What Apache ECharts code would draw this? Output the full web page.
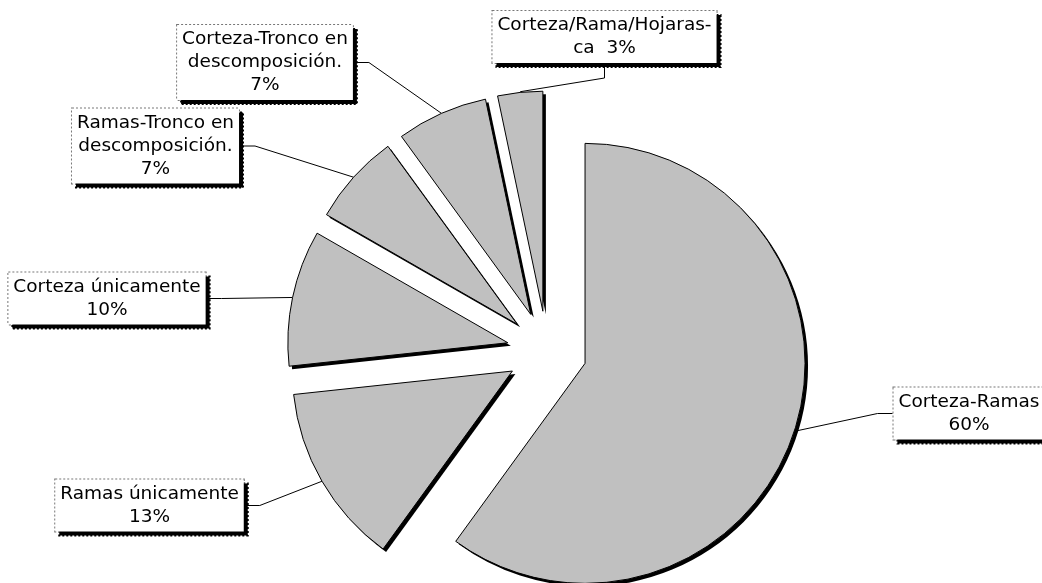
<!DOCTYPE html>
<html>
<head>
<meta charset="utf-8">
<script src="https://cdn.jsdelivr.net/npm/echarts@6/dist/echarts.min.js"></script>
<style>
html,body{margin:0;padding:0;background:#fff;}
#chart{width:1042px;height:583px;}
</style>
</head>
<body>
<div id="chart"></div>
<script>
// Categories (clockwise from 12 o'clock)
const categories = [
  'Corteza-Ramas',
  'Ramas únicamente',
  'Corteza únicamente',
  'Ramas-Tronco en descomposición.',
  'Corteza-Tronco en descomposición.',
  'Corteza/Rama/Hojarasca'
];
// Percent shares
const values = [60, 13.3, 10, 6.7, 6.7, 3.3];
// Label texts as wrapped in the picture ({p} = percentage)
const labelTexts = [
  'Corteza-Ramas\n{p}',
  'Ramas únicamente\n{p}',
  'Corteza únicamente\n{p}',
  'Ramas-Tronco en\ndescomposición.\n{p}',
  'Corteza-Tronco en\ndescomposición.\n{p}',
  'Corteza/Rama/Hojaras-\nca  {p}'
];
// Label box centres (layout only)
const labelPos = [[969, 413.5], [149.5, 505.5], [107, 298.5], [155.5, 146], [265, 62.5], [604.5, 37]];
// Which label's leader leaves from the bottom of its box (layout only)
const leaderFromBottom = [false, false, false, false, false, true];

// Layout / style constants
const CX = 547, CY = 351, R = 220, EXPLODE = 40, SHADOW = 3;

const total = values.reduce(function (a, b) { return a + b; }, 0);
let acc = 0;
const midAngles = values.map(function (v) {
  const m = (acc + v / 2) / total * 2 * Math.PI;
  acc += v;
  return m;
});

const hiddenItem = {
  itemStyle: { color: 'rgba(0,0,0,0)', borderWidth: 0 },
  label: { show: false },
  labelLine: { show: false }
};

function sliceSeries(i, isShadow) {
  const dx = Math.sin(midAngles[i]) * EXPLODE + (isShadow ? SHADOW : 0);
  const dy = -Math.cos(midAngles[i]) * EXPLODE + (isShadow ? SHADOW : 0);
  const s = {
    type: 'pie',
    name: categories[i],
    silent: true,
    z: isShadow ? 1 : 2,
    center: [CX + dx, CY + dy],
    radius: R,
    startAngle: 90,
    clockwise: true,
    percentPrecision: 0,
    avoidLabelOverlap: false,
    emphasis: { disabled: true, scale: false },
    itemStyle: isShadow
      ? { color: '#000', borderWidth: 0 }
      : { color: '#c0c0c0', borderColor: '#000', borderWidth: 1, borderJoin: 'miter' },
    label: isShadow ? { show: false } : {
      show: true,
      position: 'outside',
      color: '#000',
      fontFamily: 'DejaVu Sans',
      fontSize: 18.5,
      lineHeight: 23,
      align: 'center',
      backgroundColor: '#fff',
      borderColor: '#777',
      borderWidth: 1,
      borderType: 'dotted',
      padding: [3, 5],
      shadowColor: '#000',
      shadowBlur: 0,
      shadowOffsetX: 4,
      shadowOffsetY: 4,
      formatter: function (p) {
        return labelTexts[p.dataIndex].replace('{p}', p.percent + '%');
      }
    },
    labelLine: isShadow ? { show: false } : {
      show: true, length: 20, length2: 15, smooth: false,
      lineStyle: { color: '#000', width: 1 }
    },
    data: categories.map(function (c, j) {
      const item = { name: c, value: values[j] };
      return j === i ? item : Object.assign(item, hiddenItem);
    })
  };
  if (!isShadow) {
    s.labelLayout = function (params) {
      const k = params.dataIndex;
      const pos = labelPos[k];
      const out = { x: pos[0], y: pos[1], align: 'center', verticalAlign: 'middle' };
      if (leaderFromBottom[k] && params.rect) {
        const bottom = pos[1] + params.labelRect.height / 2;
        const r = params.rect;
        out.labelLinePoints = [
          [r.x + r.width / 2, r.y + 1],
          [pos[0], bottom + 14],
          [pos[0], bottom]
        ];
      }
      return out;
    };
  }
  return s;
}

const series = [];
categories.forEach(function (c, i) { series.push(sliceSeries(i, true)); });
categories.forEach(function (c, i) { series.push(sliceSeries(i, false)); });

const chart = echarts.init(document.getElementById('chart'), null, { renderer: 'canvas' });
chart.setOption({
  backgroundColor: '#fff',
  animation: false,
  series: series
});
</script>
</body>
</html>
